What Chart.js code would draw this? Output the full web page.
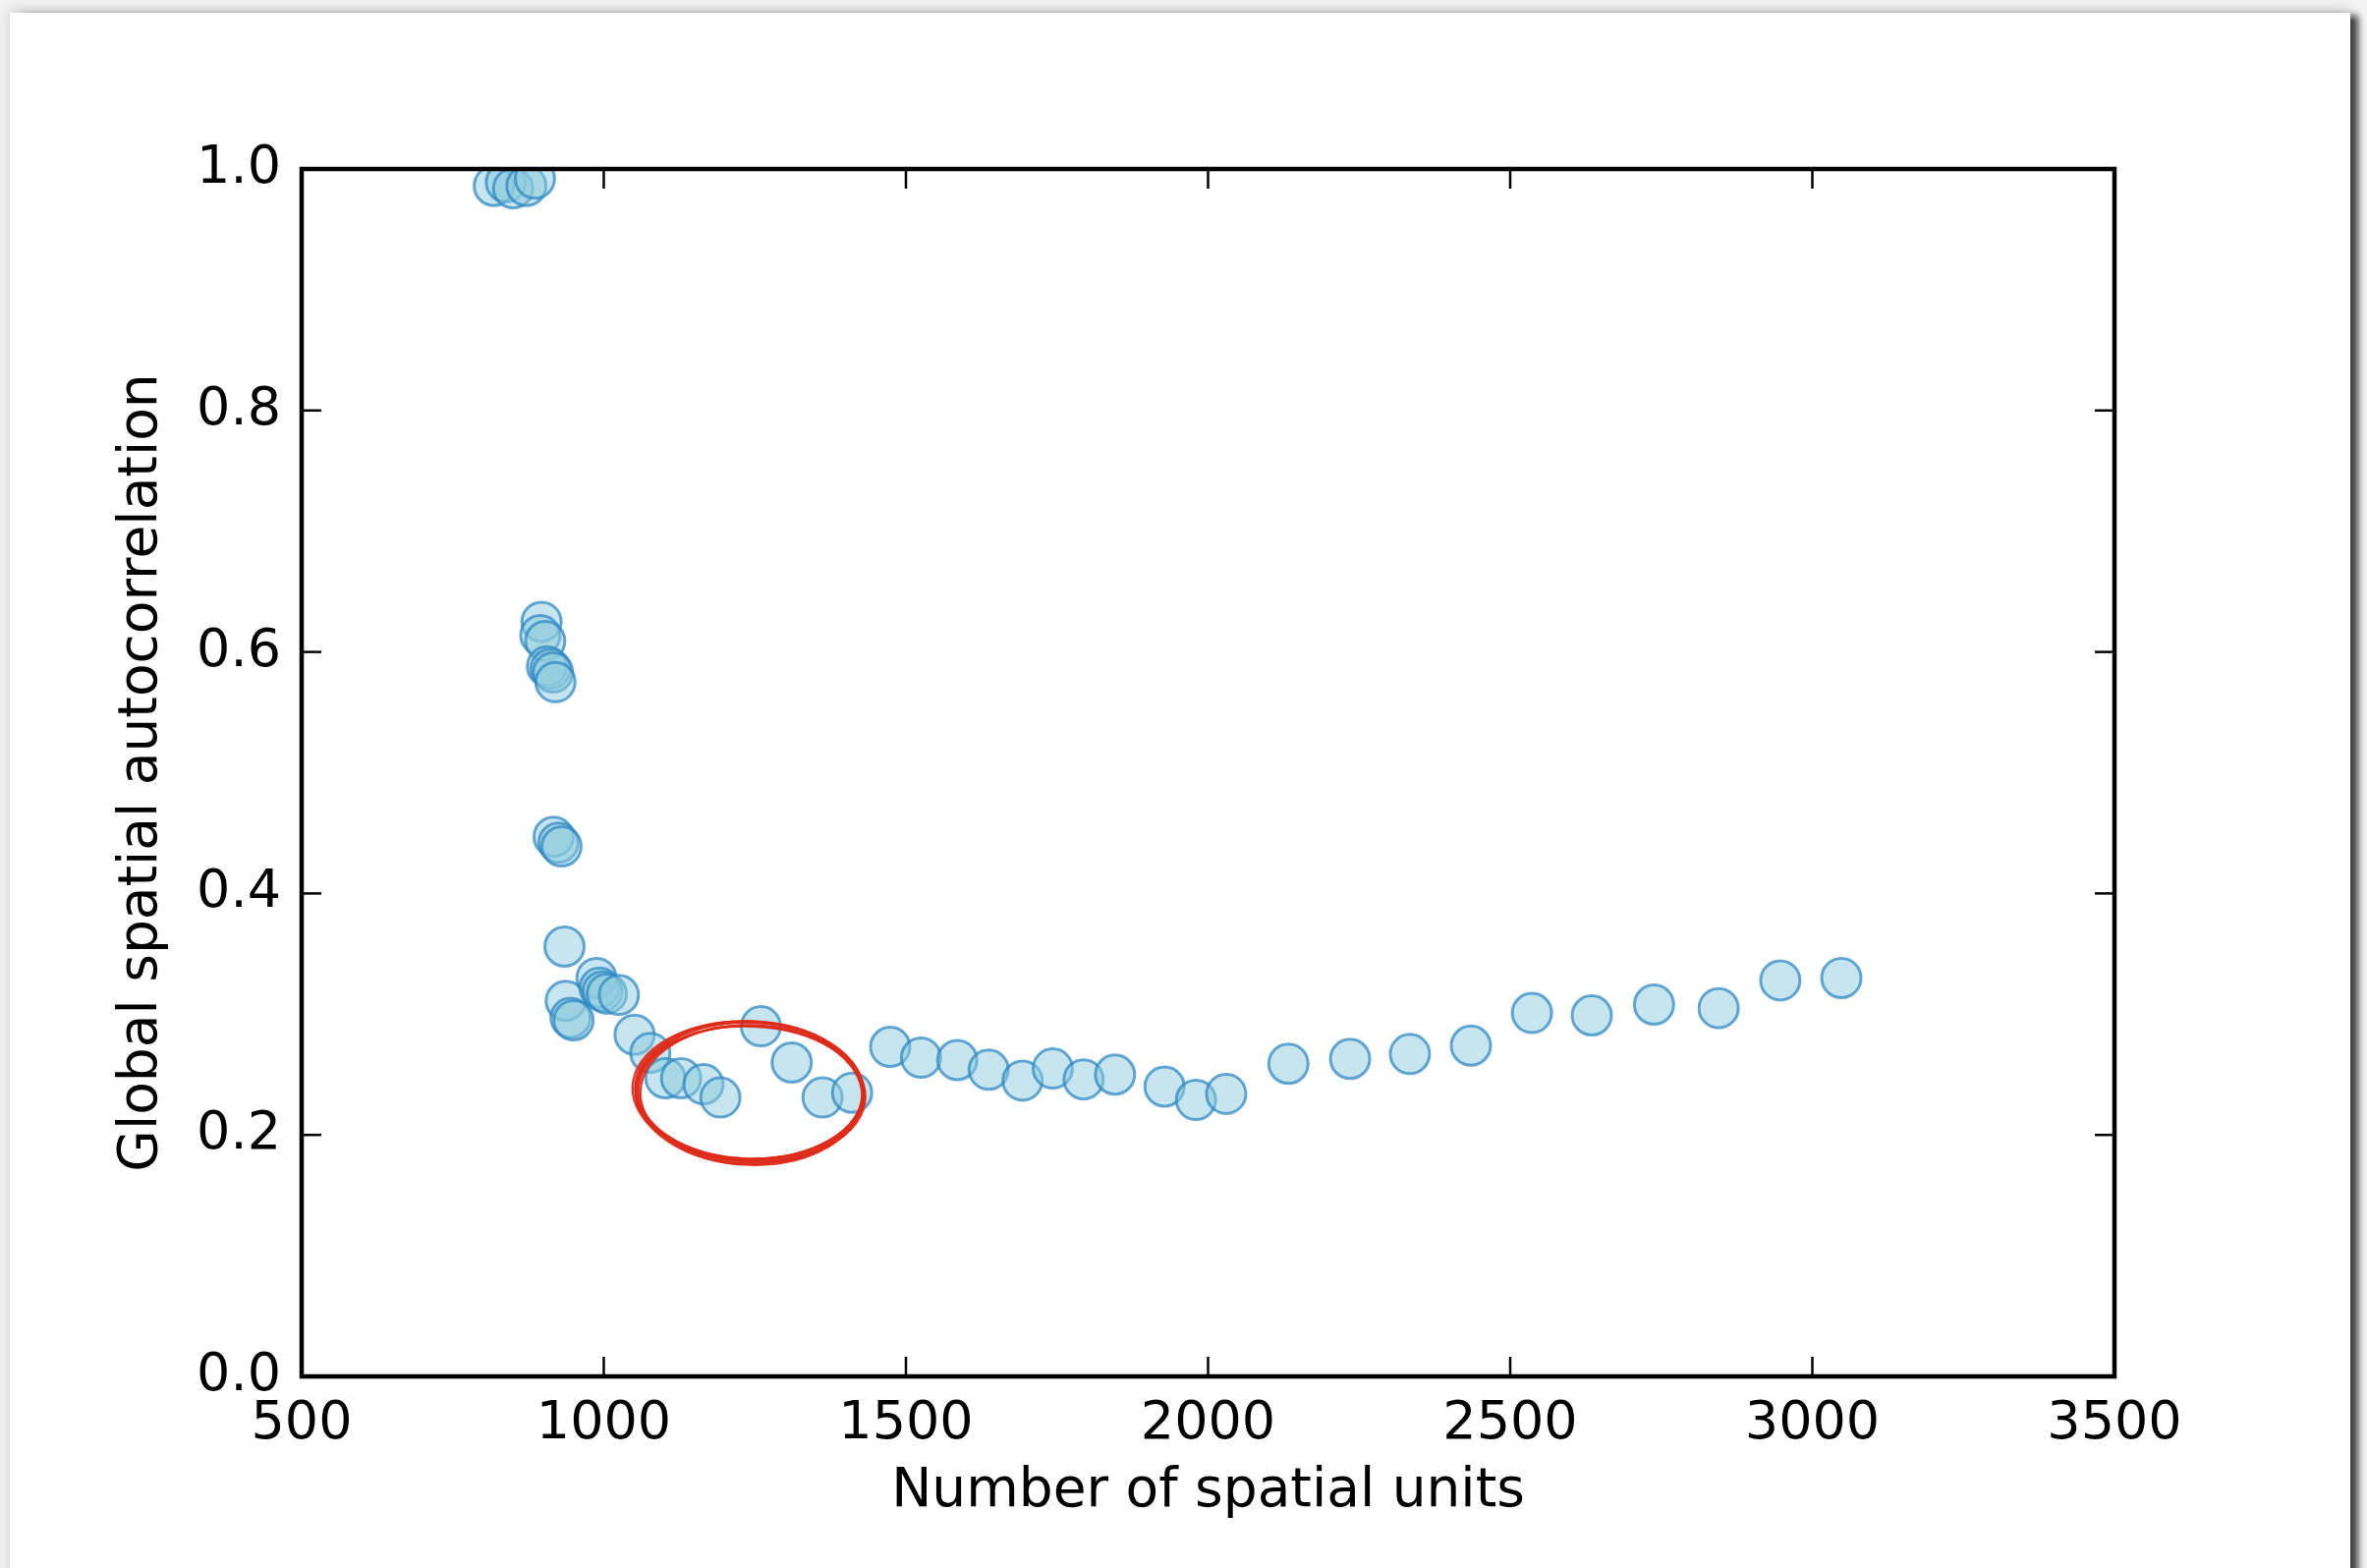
<!DOCTYPE html>
<html>
<head>
<meta charset="utf-8">
<script src="https://cdn.jsdelivr.net/npm/chart.js@4.4.1/dist/chart.umd.min.js"></script>
<style>
  html, body { margin: 0; padding: 0; width: 2409px; height: 1596px; overflow: hidden; background: #f4f4f4; }
  #card { position: absolute; left: 10px; top: 13px; width: 2382px; height: 1700px; background: #fff;
          box-shadow: 0 -3px 14px rgba(0,0,0,0.16), 11px 0 7px -3px rgba(0,0,0,0.72); }
  #c { position: absolute; left: 0; top: 0; }
</style>
</head>
<body>
<div id="card"></div>
<canvas id="c" width="2409" height="1596"></canvas>
<script>
// ---- data ----
const unitsX = [818, 838, 850, 872, 886,
  897, 895, 903, 906, 912, 916, 920,
  917, 925, 930,
  935,
  937, 945, 950,
  988, 993, 998, 1005, 1025,
  1051, 1077, 1102, 1128, 1165, 1193,
  1260, 1311, 1362, 1411,
  1474, 1525, 1585, 1637, 1693, 1743, 1794, 1846, 1928, 1980, 2030,
  2133, 2235, 2334, 2435, 2536, 2635, 2738, 2845, 2947, 3048];
const autocorrY = [0.986, 0.989, 0.984, 0.986, 0.992,
  0.625, 0.614, 0.609, 0.588, 0.586, 0.583, 0.575,
  0.447, 0.442, 0.439,
  0.356,
  0.311, 0.297, 0.295,
  0.330, 0.322, 0.319, 0.317, 0.316,
  0.283, 0.268, 0.247, 0.247, 0.242, 0.231,
  0.290, 0.260, 0.231, 0.235,
  0.273, 0.264, 0.262, 0.254, 0.245, 0.255, 0.246, 0.250, 0.240, 0.229, 0.234,
  0.259, 0.263, 0.267, 0.274, 0.301, 0.299, 0.308, 0.305, 0.328, 0.330];
const xTicks = [500, 1000, 1500, 2000, 2500, 3000, 3500];
const yTicks = [0.0, 0.2, 0.4, 0.6, 0.8, 1.0];
const highlightCenter = { x: 1241, y: 0.237 };
const xTitle = 'Number of spatial units';
const yTitle = 'Global spatial autocorrelation';

const points = unitsX.map((x, i) => ({ x: x, y: autocorrY[i] }));
const FONT = 'DejaVu Sans';

// frame + inward ticks on all four sides, placed through the chart scales
const framePlugin = {
  id: 'frame',
  afterDatasetsDraw(chart) {
    const { ctx, chartArea: a, scales } = chart;
    const xs = scales.x, ys = scales.y;
    ctx.save();
    ctx.strokeStyle = '#000';
    ctx.lineWidth = 2.5;
    const tl = 20;
    xTicks.forEach(v => {
      const px = xs.getPixelForValue(v);
      ctx.beginPath(); ctx.moveTo(px, a.bottom); ctx.lineTo(px, a.bottom - tl); ctx.stroke();
      ctx.beginPath(); ctx.moveTo(px, a.top); ctx.lineTo(px, a.top + tl); ctx.stroke();
    });
    yTicks.forEach(v => {
      const py = ys.getPixelForValue(v);
      ctx.beginPath(); ctx.moveTo(a.left, py); ctx.lineTo(a.left + tl, py); ctx.stroke();
      ctx.beginPath(); ctx.moveTo(a.right, py); ctx.lineTo(a.right - tl, py); ctx.stroke();
    });
    ctx.lineWidth = 4.5;
    ctx.strokeRect(a.left, a.top, a.right - a.left, a.bottom - a.top);
    // hand-drawn red highlight ellipse
    const cx = xs.getPixelForValue(highlightCenter.x);
    const cy = ys.getPixelForValue(highlightCenter.y);
    const strokes = [
      [116, 70, 0.03, 0, 0, 3.0],
      [114, 68, 0.02, 1, 2, 2.6],
      [118, 71, 0.04, -1, 1, 2.4],
      [115, 72, 0.025, 0, 3, 2.8],
      [117, 69, 0.035, 1, 4, 2.4],
      [113, 71, 0.03, 2, 5, 2.2]
    ];
    ctx.strokeStyle = 'rgba(222,42,25,0.92)';
    strokes.forEach(s => {
      ctx.lineWidth = s[5];
      ctx.beginPath();
      ctx.ellipse(cx + s[3], cy + s[4], s[0], s[1], s[2], 0, Math.PI * 2);
      ctx.stroke();
    });
    ctx.restore();
  }
};

new Chart(document.getElementById('c'), {
  type: 'scatter',
  data: {
    datasets: [{
      data: points,
      pointRadius: 20,
      pointHoverRadius: 20,
      pointBorderWidth: 3,
      backgroundColor: 'rgba(141,203,222,0.5)',
      borderColor: 'rgba(45,135,195,0.72)'
    }]
  },
  options: {
    responsive: false,
    animation: false,
    devicePixelRatio: 1,
    layout: { padding: { left: 0, top: 172, right: 257, bottom: 0 } },
    plugins: { legend: { display: false }, tooltip: { enabled: false } },
    scales: {
      x: {
        type: 'linear', min: 500, max: 3500,
        afterBuildTicks: s => { s.ticks = xTicks.map(v => ({ value: v })); },
        afterFit: s => { s.height = 195; },
        grid: { display: false, drawTicks: false },
        border: { display: false },
        ticks: { color: '#000', font: { family: FONT, size: 54 }, padding: 17, maxRotation: 0,
                 callback: v => String(v) },
        title: { display: true, text: xTitle, color: '#000', font: { family: FONT, size: 55 },
                 padding: { top: 0, bottom: 44 } }
      },
      y: {
        type: 'linear', min: 0, max: 1,
        afterBuildTicks: s => { s.ticks = yTicks.map(v => ({ value: v })); },
        afterFit: s => { s.width = 307; },
        grid: { display: false, drawTicks: false },
        border: { display: false },
        ticks: { color: '#000', font: { family: FONT, size: 54 }, padding: 21,
                 callback: v => Number(v).toFixed(1) },
        title: { display: true, text: yTitle, color: '#000', font: { family: FONT, size: 55 },
                 padding: { top: 112, bottom: 0 } }
      }
    }
  },
  plugins: [framePlugin]
});
</script>
</body>
</html>
